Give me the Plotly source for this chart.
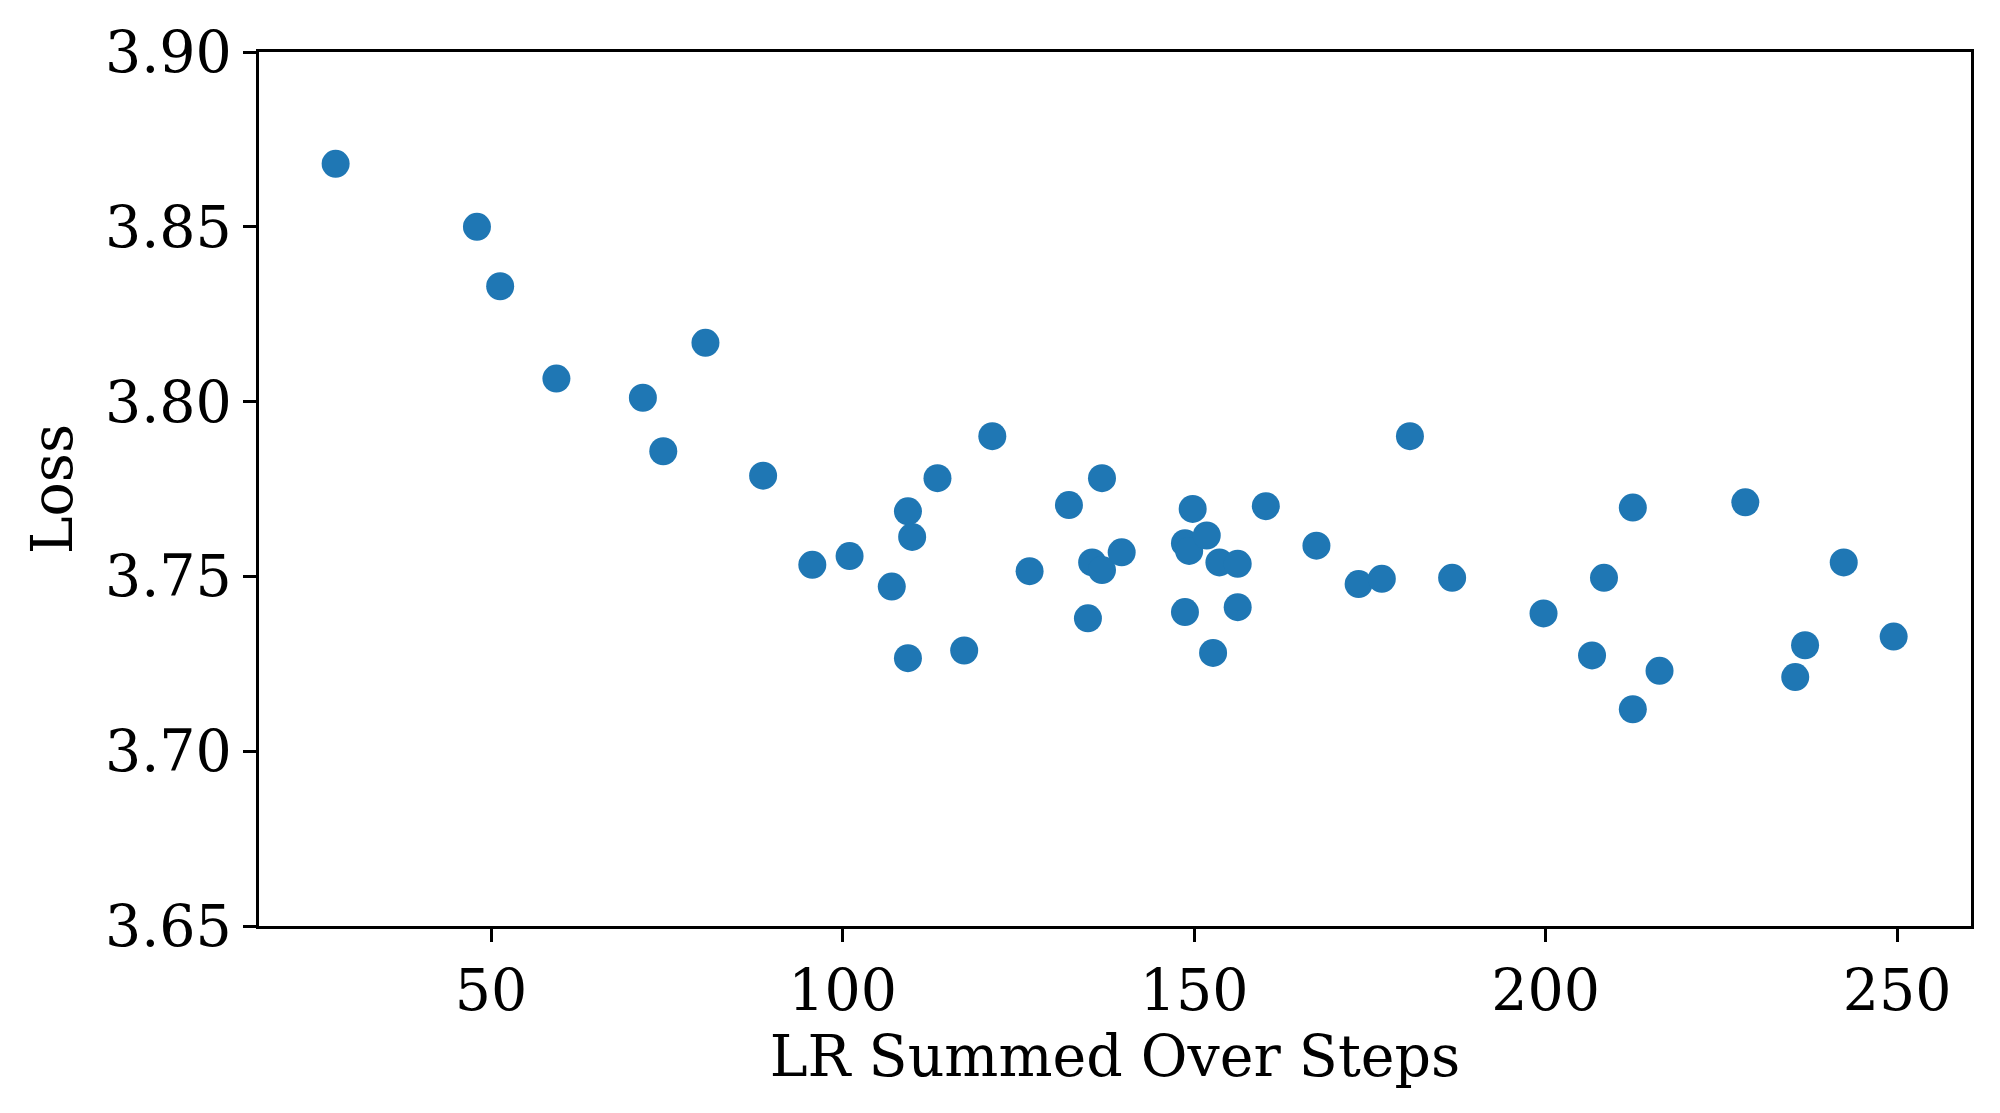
import plotly.graph_objects as go

lr_sum = [27.9, 48.0, 51.3, 59.3, 80.5, 71.6, 74.5, 88.7, 95.7, 101.0,
          107.0, 109.3, 109.9, 109.3, 113.5, 117.3, 121.3, 126.6, 132.2, 135.5,
          134.9, 136.9, 136.9, 139.7, 148.7, 149.3, 149.8, 148.7, 151.8, 152.7,
          153.6, 156.2, 156.2, 160.2, 167.4, 173.4, 176.7, 180.7, 186.7, 199.7,
          206.6, 208.3, 212.4, 212.4, 216.2, 228.4, 235.5, 236.9, 242.4, 249.5]
loss = [3.868, 3.850, 3.833, 3.8066, 3.8168, 3.8011, 3.7858, 3.7788, 3.7533, 3.7558,
        3.7471, 3.7686, 3.7613, 3.7266, 3.7781, 3.7288, 3.7901, 3.7515, 3.7704, 3.754,
        3.738, 3.7781, 3.7518, 3.7569, 3.7595, 3.7573, 3.7693, 3.7398, 3.7617, 3.7281,
        3.754, 3.7536, 3.7412, 3.7701, 3.7588, 3.7478, 3.7493, 3.7901, 3.7496, 3.7394,
        3.7274, 3.7496, 3.7697, 3.712, 3.723, 3.7712, 3.7212, 3.7303, 3.754, 3.7328]

x_ticks = [50, 100, 150, 200, 250]
y_ticks = [3.65, 3.70, 3.75, 3.80, 3.85, 3.90]

font = dict(family="DejaVu Serif", size=57, color="black")

fig = go.Figure(go.Scatter(
    x=lr_sum, y=loss, mode="markers",
    marker=dict(color="#1f77b4", size=28, line=dict(width=0)),
))

axis_common = dict(
    showgrid=False, zeroline=False, showline=True, linecolor="black",
    linewidth=2.5, mirror=True, ticks="outside", ticklen=13, tickwidth=2.5,
    tickcolor="black", tickfont=font,
)

fig.update_layout(
    width=2000, height=1113,
    paper_bgcolor="white", plot_bgcolor="white",
    margin=dict(l=251, r=37, t=44, b=195),
    showlegend=False,
    font=font,
    xaxis=dict(range=[17.0, 260.5], tickvals=x_ticks,
               ticktext=[str(v) for v in x_ticks],
               title=dict(text="LR Summed Over Steps", font=font, standoff=14),
               **axis_common),
    yaxis=dict(range=[3.65, 3.90], tickvals=y_ticks,
               ticktext=[f"{v:.2f}" for v in y_ticks],
               title=dict(text="Loss", font=font, standoff=14),
               **axis_common),
)

fig.write_html("out.html")
